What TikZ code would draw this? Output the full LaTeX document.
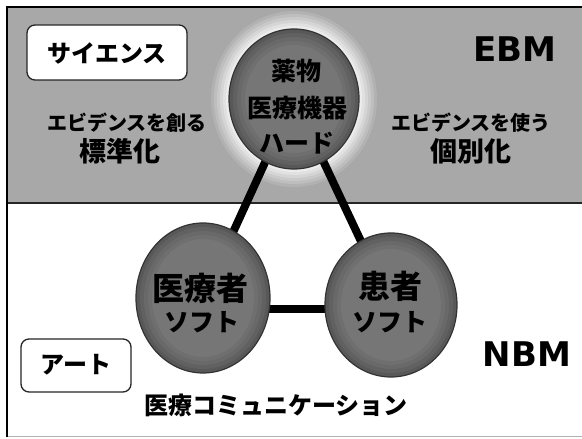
\documentclass[tikz,border=0pt]{standalone}
\usepackage{fontspec}
\usetikzlibrary{shapes.geometric}
\newfontfamily\jp{Noto Sans CJK JP}
\newfontfamily\lat{DejaVu Sans}
\definecolor{graybg}{RGB}{168,168,168}
\definecolor{ballin}{RGB}{118,118,118}
\definecolor{ballout}{RGB}{88,88,88}
\newcommand\blk{\pgfsetfillcolor{black}\pgfsetstrokecolor{black}}
\pgfdeclarelayer{bg}
\pgfdeclarelayer{mid}
\pgfsetlayers{bg,mid,main}
\begin{document}
\begin{tikzpicture}[x=1pt,y=1pt,
  every node/.style={inner sep=0pt},
  jt/.style={text=black, font=\jp\bfseries\fontsize{#1pt}{#1pt}\selectfont\blk},
  lt/.style={text=black, font=\lat\bfseries\fontsize{#1pt}{#1pt}\selectfont\blk},
  ball/.style={ellipse, draw=black!80, line width=1.2pt, fill=ballout},
  conn/.style={line width=8pt, black},
  tag/.style={draw=black!85, line width=1.3pt, fill=white, rounded corners=8pt}
]
\useasboundingbox (0,0) rectangle (582,439);
\begin{pgfonlayer}{bg}
  \fill[white] (0,0) rectangle (582,439);
  \fill[graybg] (7,236) rectangle (582,432);
  \foreach \s/\m in {18/12,15/25,12/38,9/52,6/65,3/78} {
    \fill[white!\m!graybg] (294,340) ellipse ({65+\s} and {70+\s});
  }
  \draw[black!85, line width=1.2pt] (7,236) -- (582,236);
  \draw[black!30, line width=1pt] (7,2) -- (582,2);
  \draw[black, line width=2pt] (7,2) -- (7,432) -- (582,432);
\end{pgfonlayer}

% boxes
\node[tag, minimum width=160pt, minimum height=55pt] (sci) at (107,386.5) {};
\node[jt=24] (scit) at (107,386) {サイエンス};
\node[tag, minimum width=110pt, minimum height=53pt] (art) at (76,73.5) {};
\node[jt=24] (artt) at (76,74) {アート};

% EBM / NBM
\node[lt=34] (ebm) at (515,390) {EBM};
\node[lt=34] (nbm) at (527,85) {NBM};

% top texts
\node[jt=20] (cre) at (127,316) {エビデンスを創る};
\node[jt=27] (std) at (120,288) {標準化};
\node[jt=20] (use) at (471,316) {エビデンスを使う};
\node[jt=27] (ind) at (471,288) {個別化};

% balls
\node[ball, minimum width=130pt, minimum height=140pt] (hard) at (294,340) {};
\node[ball, minimum width=134pt, minimum height=150pt] (doc) at (203,141) {};
\node[ball, minimum width=132pt, minimum height=144pt] (pat) at (391,134) {};
\foreach \c/\w/\h in {hard/65/70, doc/67/75, pat/66/72} {
  \foreach \k/\m in {4/30,8/55,12/78,16/100} {
    \fill[ballin!\m!ballout] (\c.center) ellipse ({\w-\k} and {\h-\k});
  }
}

\node[jt=25] (h1) at (296,368) {薬物};
\node[jt=25] (h2) at (297,331) {医療機器};
\node[jt=25] (h3) at (297,296) {ハード};

\node[jt=32] (d1) at (200,151) {医療者};
\node[jt=25] (d2) at (202,117) {ソフト};
\node[jt=32] (p1) at (390,153) {患者};
\node[jt=25] (p2) at (390,117) {ソフト};

\node[jt=24] (comm) at (276,34) {医療コミュニケーション};

\coordinate (hy) at (0,130);
\begin{pgfonlayer}{mid}
  \draw[conn] (hard.center) -- (doc.center);
  \draw[conn] (hard.center) -- (pat.center);
  \draw[conn] (doc |- hy) -- (pat |- hy);
\end{pgfonlayer}
\end{tikzpicture}
\end{document}
